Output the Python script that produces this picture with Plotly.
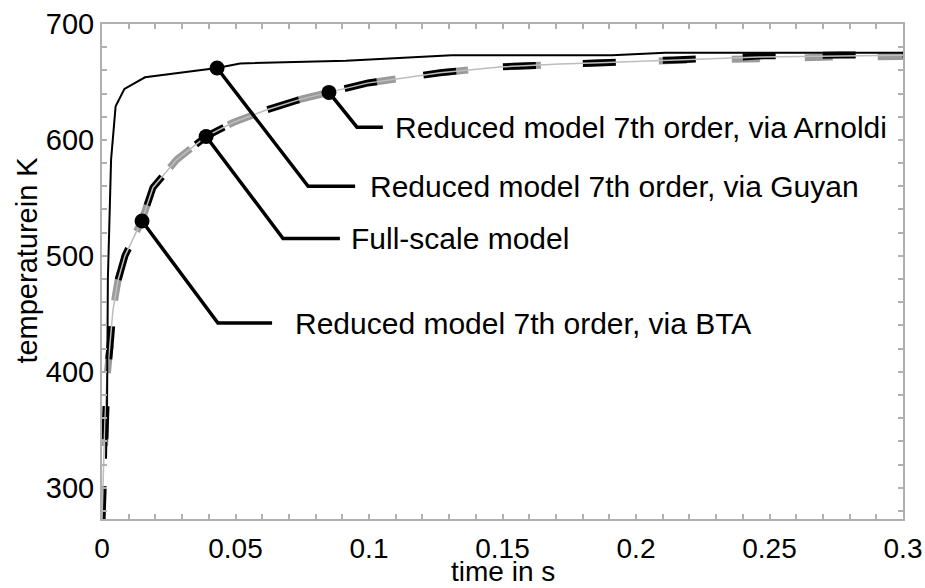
import plotly.graph_objects as go

# ---- data ----
t_full = [0.0, 0.0011, 0.0019, 0.0030, 0.0041, 0.0060, 0.0086, 0.0150, 0.0191, 0.0280,
          0.0390, 0.0491, 0.0618, 0.0742, 0.0850, 0.0993, 0.1116, 0.1266, 0.1490,
          0.1715, 0.1865, 0.2139, 0.2363, 0.2464, 0.2764, 0.3000]
T_full = [273, 358, 396, 422, 453, 479, 500, 531, 559, 583,
          603, 615, 626, 635, 641, 649, 653, 658, 663,
          665.5, 666.5, 669, 670.5, 671.5, 672.5, 673]
T_bta = [273, 358, 396, 422, 453, 479, 500, 531, 559, 583,
         603, 615, 626, 635, 641, 649, 653, 658, 663,
         665.5, 666.5, 669, 671, 672.5, 673.3, 673.5]
T_arnoldi = [273, 358, 396, 422, 453, 479, 500, 531, 559, 583,
             603, 615, 626, 635, 641, 649, 653, 658, 663,
             665.5, 666.5, 668.5, 670, 671, 671.6, 672]

t_guyan = [0.0015, 0.0019, 0.0022, 0.0034, 0.0051, 0.0084, 0.0161, 0.0431, 0.0517,
           0.0742, 0.0914, 0.1310, 0.1910, 0.2110, 0.3000]
T_guyan = [325, 373, 480, 583, 629, 644, 654, 662, 666,
           667.5, 668.4, 673, 673, 675.3, 675.3]

labels = ["Reduced model 7th order, via Arnoldi",
          "Reduced model 7th order, via Guyan",
          "Full-scale model",
          "Reduced model 7th order, via BTA"]
marker_t = [0.085, 0.0431, 0.039, 0.015]
marker_T = [641, 662, 603, 530]

x_ticks = [0, 0.05, 0.1, 0.15, 0.2, 0.25, 0.3]
x_ticktext = ["0", "0.05", "0.1", "0.15", "0.2", "0.25", "0.3"]
y_ticks = [300, 400, 500, 600, 700]
x_title = "time in s"
y_title = "temperaturein K"

# ---- layout constants for the label leaders (elbow, end, text start) ----
leader_elbow = [(0.0955, 611), (0.0772, 560), (0.0678, 515), (0.0434, 442)]
leader_end_t = [0.1052, 0.0948, 0.0891, 0.0637]
text_t = [0.1090, 0.0996, 0.0925, 0.0715]

FONT = "Liberation Sans, Arial, sans-serif"
fig = go.Figure()

fig.add_trace(go.Scatter(x=t_full, y=T_arnoldi, mode="lines", name="Arnoldi",
                         line=dict(color="#9a9a9a", width=7, dash="28px,45px")))
fig.add_trace(go.Scatter(x=t_full, y=T_bta, mode="lines", name="BTA",
                         line=dict(color="black", width=7, dash="33px,47px")))
fig.add_trace(go.Scatter(x=t_full, y=T_full, mode="lines", name="Full-scale",
                         line=dict(color="#bdbdbd", width=1.5)))
fig.add_trace(go.Scatter(x=t_guyan, y=T_guyan, mode="lines", name="Guyan",
                         line=dict(color="black", width=2)))

for i, lab in enumerate(labels):
    ex, ey = leader_elbow[i]
    fig.add_trace(go.Scatter(x=[marker_t[i], ex, leader_end_t[i]],
                             y=[marker_T[i], ey, ey], mode="lines",
                             line=dict(color="black", width=3.5), hoverinfo="skip"))
    fig.add_annotation(x=text_t[i], y=ey, text=lab, showarrow=False,
                       xanchor="left", yanchor="middle",
                       font=dict(family=FONT, size=30, color="black"))

fig.add_trace(go.Scatter(x=marker_t, y=marker_T, mode="markers",
                         marker=dict(color="black", size=15, symbol="circle")))

# axis titles
fig.add_annotation(x=0.5, y=-0.1394, xref="paper", yref="paper", text=x_title,
                   showarrow=False, xanchor="center", yanchor="bottom", borderpad=0,
                   font=dict(family=FONT, size=28, color="black"))
fig.add_annotation(x=-0.093, y=0.523, xref="paper", yref="paper", text=y_title,
                   showarrow=False, xanchor="center", yanchor="middle", textangle=-90,
                   font=dict(family=FONT, size=29, color="black"))

axis_common = dict(showline=True, linecolor="#b0b0b0", linewidth=2, mirror="ticks",
                   ticks="inside", ticklen=5, tickcolor="#b0b0b0", tickwidth=1.5,
                   showgrid=False, zeroline=False, automargin=False)

fig.update_xaxes(range=[0, 0.3], tickvals=x_ticks, ticktext=x_ticktext,
                 minor=dict(dtick=0.01, ticks="inside", ticklen=5, tickcolor="#b0b0b0",
                            showgrid=False),
                 ticklabelstandoff=3,
                 tickfont=dict(family=FONT, size=28, color="black"),
                 **axis_common)
fig.update_yaxes(range=[273, 700], tickvals=y_ticks,
                 minor=dict(dtick=20, tick0=300, ticks="inside", ticklen=5, tickcolor="#b0b0b0",
                            showgrid=False),
                 ticklabelstandoff=0,
                 tickfont=dict(family=FONT, size=29, color="black"),
                 **axis_common)

fig.update_layout(width=925, height=588, showlegend=False,
                  margin=dict(l=102, r=22, t=24, b=69),
                  plot_bgcolor="white", paper_bgcolor="white")

fig.write_html("out.html")
